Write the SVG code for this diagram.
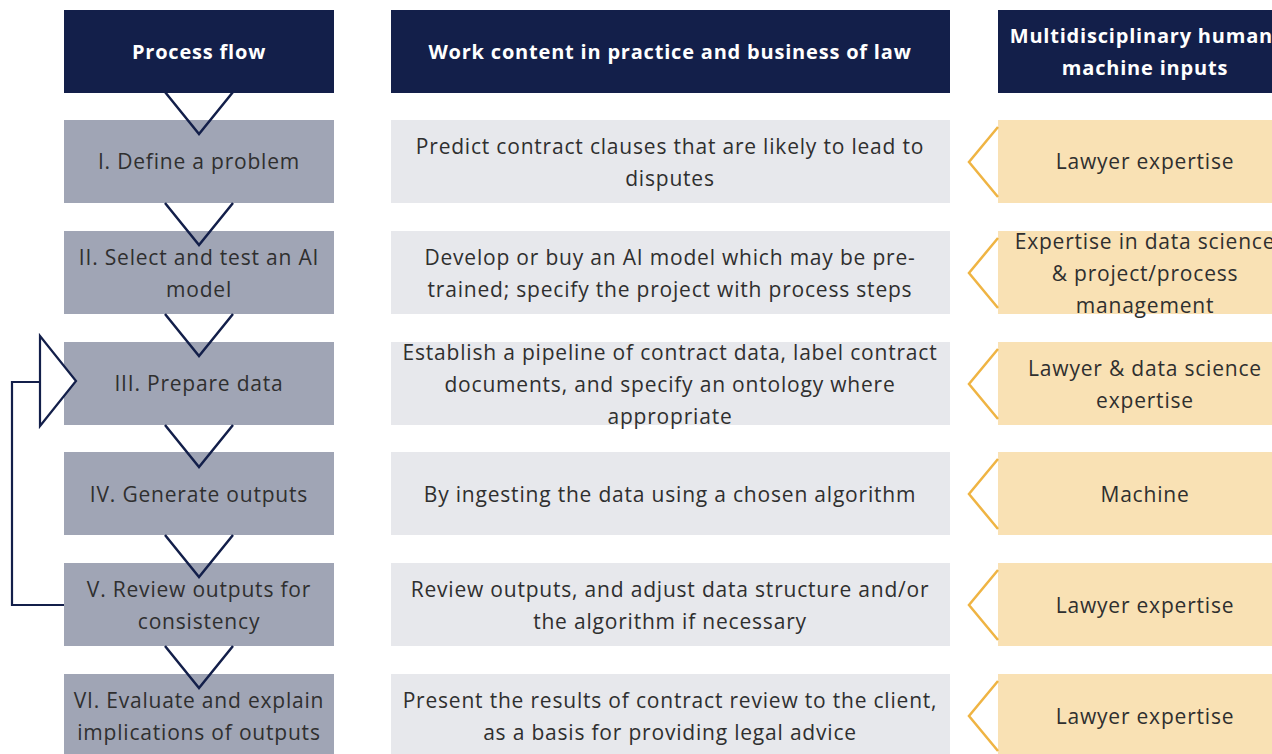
<svg xmlns="http://www.w3.org/2000/svg" width="1272" height="754" viewBox="0 0 1272 754">
  <style>
    .hdr { fill: #131f4a; }
    .hdrtxt { font-family: "Open Sans", "Liberation Sans", sans-serif; font-weight: 700; font-size: 20px; letter-spacing: 0.8px; fill: #ffffff; text-anchor: middle; }
    .step { fill: #a0a5b5; }
    .work { fill: #e7e8ec; }
    .input { fill: #f9e1b4; }
    .txt { font-family: "Open Sans", "Liberation Sans", sans-serif; font-size: 21px; letter-spacing: 0.8px; fill: #2f2f2f; text-anchor: middle; }
    .down { fill: none; stroke: #131f4a; stroke-width: 2.5; stroke-linejoin: miter; }
    .chev { fill: none; stroke: #efb443; stroke-width: 2.5; }
    .loop { fill: none; stroke: #131f4a; stroke-width: 2.2; }
  </style>

  <!-- Column headers -->
  <g id="header-process">
    <rect class="hdr" x="64" y="10" width="270" height="83"/>
    <text class="hdrtxt" x="199" y="59">Process flow</text>
  </g>
  <g id="header-work">
    <rect class="hdr" x="391" y="10" width="559" height="83"/>
    <text class="hdrtxt" x="670" y="59">Work content in practice and business of law</text>
  </g>
  <g id="header-inputs">
    <rect class="hdr" x="998" y="10" width="294" height="83"/>
    <text class="hdrtxt" x="1145" y="43">Multidisciplinary human-</text>
    <text class="hdrtxt" x="1145" y="75">machine inputs</text>
  </g>

  <!-- Row 1 -->
  <g id="step-1">
    <rect class="step" x="64" y="120" width="270" height="83"/>
    <text class="txt" x="199" y="169">I. Define a problem</text>
  </g>
  <g id="work-1">
    <rect class="work" x="391" y="120" width="559" height="83"/>
    <text class="txt" x="670" y="154">Predict contract clauses that are likely to lead to</text>
    <text class="txt" x="670" y="186">disputes</text>
  </g>
  <g id="input-1">
    <rect class="input" x="998" y="120" width="294" height="83"/>
    <text class="txt" x="1145" y="169">Lawyer expertise</text>
  </g>

  <!-- Row 2 -->
  <g id="step-2">
    <rect class="step" x="64" y="231" width="270" height="83"/>
    <text class="txt" x="199" y="265">II. Select and test an AI</text>
    <text class="txt" x="199" y="297">model</text>
  </g>
  <g id="work-2">
    <rect class="work" x="391" y="231" width="559" height="83"/>
    <text class="txt" x="670" y="265">Develop or buy an AI model which may be pre-</text>
    <text class="txt" x="670" y="297">trained; specify the project with process steps</text>
  </g>
  <g id="input-2">
    <rect class="input" x="998" y="231" width="294" height="83"/>
    <text class="txt" x="1145" y="249">Expertise in data science</text>
    <text class="txt" x="1145" y="281">&amp; project/process</text>
    <text class="txt" x="1145" y="313">management</text>
  </g>

  <!-- Row 3 -->
  <g id="step-3">
    <rect class="step" x="64" y="342" width="270" height="83"/>
    <text class="txt" x="199" y="391">III. Prepare data</text>
  </g>
  <g id="work-3">
    <rect class="work" x="391" y="342" width="559" height="83"/>
    <text class="txt" x="670" y="360">Establish a pipeline of contract data, label contract</text>
    <text class="txt" x="670" y="392">documents, and specify an ontology where</text>
    <text class="txt" x="670" y="424">appropriate</text>
  </g>
  <g id="input-3">
    <rect class="input" x="998" y="342" width="294" height="83"/>
    <text class="txt" x="1145" y="376">Lawyer &amp; data science</text>
    <text class="txt" x="1145" y="408">expertise</text>
  </g>

  <!-- Row 4 -->
  <g id="step-4">
    <rect class="step" x="64" y="452" width="270" height="83"/>
    <text class="txt" x="199" y="502">IV. Generate outputs</text>
  </g>
  <g id="work-4">
    <rect class="work" x="391" y="452" width="559" height="83"/>
    <text class="txt" x="670" y="502">By ingesting the data using a chosen algorithm</text>
  </g>
  <g id="input-4">
    <rect class="input" x="998" y="452" width="294" height="83"/>
    <text class="txt" x="1145" y="502">Machine</text>
  </g>

  <!-- Row 5 -->
  <g id="step-5">
    <rect class="step" x="64" y="563" width="270" height="83"/>
    <text class="txt" x="199" y="597">V. Review outputs for</text>
    <text class="txt" x="199" y="629">consistency</text>
  </g>
  <g id="work-5">
    <rect class="work" x="391" y="563" width="559" height="83"/>
    <text class="txt" x="670" y="597">Review outputs, and adjust data structure and/or</text>
    <text class="txt" x="670" y="629">the algorithm if necessary</text>
  </g>
  <g id="input-5">
    <rect class="input" x="998" y="563" width="294" height="83"/>
    <text class="txt" x="1145" y="613">Lawyer expertise</text>
  </g>

  <!-- Row 6 -->
  <g id="step-6">
    <rect class="step" x="64" y="674" width="270" height="83"/>
    <text class="txt" x="199" y="708">VI. Evaluate and explain</text>
    <text class="txt" x="199" y="740">implications of outputs</text>
  </g>
  <g id="work-6">
    <rect class="work" x="391" y="674" width="559" height="83"/>
    <text class="txt" x="670" y="708">Present the results of contract review to the client,</text>
    <text class="txt" x="670" y="740">as a basis for providing legal advice</text>
  </g>
  <g id="input-6">
    <rect class="input" x="998" y="674" width="294" height="83"/>
    <text class="txt" x="1145" y="724">Lawyer expertise</text>
  </g>

  <!-- Connectors -->
  <g id="connectors">
    <!-- downward flow chevrons between steps -->
    <polyline class="down" points="165,92 199,134 233,92"/>
    <polyline class="down" points="165,203 199,245 233,203"/>
    <polyline class="down" points="165,314 199,356 233,314"/>
    <polyline class="down" points="165,425 199,467 233,425"/>
    <polyline class="down" points="165,535 199,577 233,535"/>
    <polyline class="down" points="165,646 199,688 233,646"/>

    <!-- feedback loop from review back to data preparation -->
    <polyline class="loop" points="64,605 12,605 12,382 40,382"/>
    <polygon class="loop" style="fill:#ffffff" points="40,336 76,381 40,426"/>

    <!-- input pointers -->
    <polyline class="chev" points="998,127 969,162 998,197"/>
    <polyline class="chev" points="998,238 969,273 998,308"/>
    <polyline class="chev" points="998,349 969,384 998,419"/>
    <polyline class="chev" points="998,459 969,494 998,529"/>
    <polyline class="chev" points="998,570 969,605 998,640"/>
    <polyline class="chev" points="998,681 969,716 998,751"/>
  </g>
</svg>
